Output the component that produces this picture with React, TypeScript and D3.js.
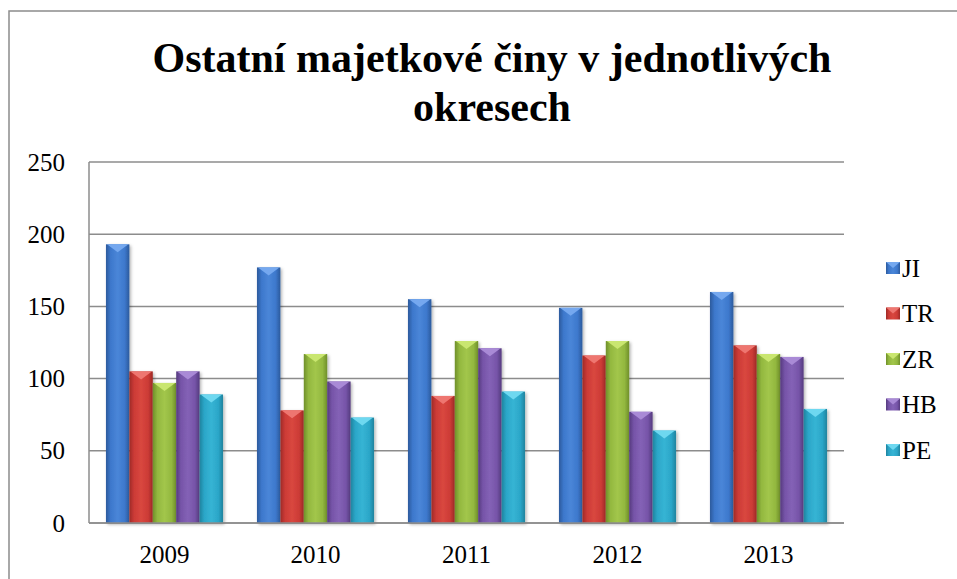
import React from "react";
import * as d3 from "d3";

const years = ["2009", "2010", "2011", "2012", "2013"];
const seriesNames = ["JI", "TR", "ZR", "HB", "PE"];
const JI = [193, 177, 155, 149, 160];
const TR = [105, 78, 88, 116, 123];
const ZR = [97, 117, 126, 126, 117];
const HB = [105, 98, 121, 77, 115];
const PE = [89, 73, 91, 64, 79];
const yTicks = [0, 50, 100, 150, 200, 250];
const titleLines = ["Ostatní majetkové činy v jednotlivých", "okresech"];

const seriesValues = [JI, TR, ZR, HB, PE];
const colors: Record<string, { dark: string; mid: string; light: string; top: string }> = {
  JI: { dark: "#2c5a9c", mid: "#3d78cc", light: "#4a86d8", top: "#74a8ef" },
  TR: { dark: "#9e2a26", mid: "#cc3b36", light: "#d9473f", top: "#ee7670" },
  ZR: { dark: "#6f8f2a", mid: "#93b83f", light: "#a2c64b", top: "#c9e66f" },
  HB: { dark: "#553a7e", mid: "#7654a8", light: "#8462b6", top: "#a98ad6" },
  PE: { dark: "#1f839e", mid: "#2ba6c8", light: "#36b4d4", top: "#6ed8f0" },
};

const W = 957;
const H = 579;
const plotLeft = 89;
const plotRight = 844;
const plotTop = 162;
const plotBottom = 523;
const FONT = { fontFamily: "Liberation Serif" };

export default function App() {
  const x0 = d3.scaleBand<string>().domain(years).range([plotLeft, plotRight]).padding(0);
  const x1 = d3
    .scaleBand<string>()
    .domain(seriesNames)
    .range([0, x0.bandwidth()])
    .paddingInner(0)
    .paddingOuter(0.725);
  const y = d3.scaleLinear().domain([0, 250]).range([plotBottom, plotTop]);

  const legendY = d3.scalePoint<string>().domain(seriesNames).range([268, 450]);

  return (
    <svg width={W} height={H} style={{ position: "absolute", left: 0, top: 0, background: "#fff" }}>
      <defs>
        {seriesNames.map((s) => (
          <linearGradient key={s} id={`g-${s}`} x1="0" x2="1" y1="0" y2="0">
            <stop offset="0" stopColor={colors[s].dark} />
            <stop offset="0.2" stopColor={colors[s].mid} />
            <stop offset="0.5" stopColor={colors[s].light} />
            <stop offset="0.8" stopColor={colors[s].mid} />
            <stop offset="1" stopColor={colors[s].dark} />
          </linearGradient>
        ))}
        <filter id="shadow" x="-20%" y="-5%" width="140%" height="110%">
          <feDropShadow dx="1.5" dy="1.5" stdDeviation="1.5" floodColor="#000" floodOpacity="0.3" />
        </filter>
      </defs>
      <rect x={9} y={11} width={W} height={H} fill="#fff" stroke="#8c8c8c" strokeWidth={1.5} />

      {titleLines.map((t, i) => (
        <text
          key={i}
          x={492}
          y={72 + i * 49}
          textAnchor="middle"
          fontSize={42}
          fontWeight="bold"
          fill="#000"
          style={FONT}
        >
          {t}
        </text>
      ))}

      {yTicks.map((t) => (
        <g key={t}>
          <line x1={plotLeft} x2={plotRight} y1={y(t)} y2={y(t)} stroke="#8c8c8c" strokeWidth={1.5} />
          <text x={65} y={y(t) + 8.5} textAnchor="end" fontSize={25} fill="#000" style={FONT}>
            {t}
          </text>
        </g>
      ))}
      <line x1={plotLeft} x2={plotLeft} y1={plotTop} y2={plotBottom} stroke="#8c8c8c" strokeWidth={1.5} />

      {years.map((yr, i) => (
        <g key={yr}>
          {seriesNames.map((s, j) => {
            const v = seriesValues[j][i];
            const bx = (x0(yr) as number) + (x1(s) as number);
            const bw = x1.bandwidth();
            const by = y(v);
            const bh = plotBottom - by;
            return (
              <g key={s} filter="url(#shadow)">
                <rect x={bx} y={by} width={bw} height={bh} fill={`url(#g-${s})`} />
                <path
                  d={`M${bx + 1},${by} L${bx + bw - 1},${by} L${bx + bw / 2},${by + 8} Z`}
                  fill={colors[s].top}
                />
              </g>
            );
          })}
          <text
            x={(x0(yr) as number) + x0.bandwidth() / 2}
            y={563}
            textAnchor="middle"
            fontSize={25}
            fill="#000"
            style={FONT}
          >
            {yr}
          </text>
        </g>
      ))}
      <line x1={plotLeft} x2={plotRight} y1={plotBottom} y2={plotBottom} stroke="#8c8c8c" strokeWidth={1.5} />

      {seriesNames.map((s) => {
        const cy = legendY(s) as number;
        return (
          <g key={s}>
            <rect x={886} y={cy - 6} width={14} height={12} fill={`url(#g-${s})`} />
            <path d={`M886,${cy - 6} L900,${cy - 6} L893,${cy}Z`} fill={colors[s].top} />
            <text x={902} y={cy + 8.5} fontSize={25} fill="#000" style={FONT}>
              {s}
            </text>
          </g>
        );
      })}
    </svg>
  );
}
